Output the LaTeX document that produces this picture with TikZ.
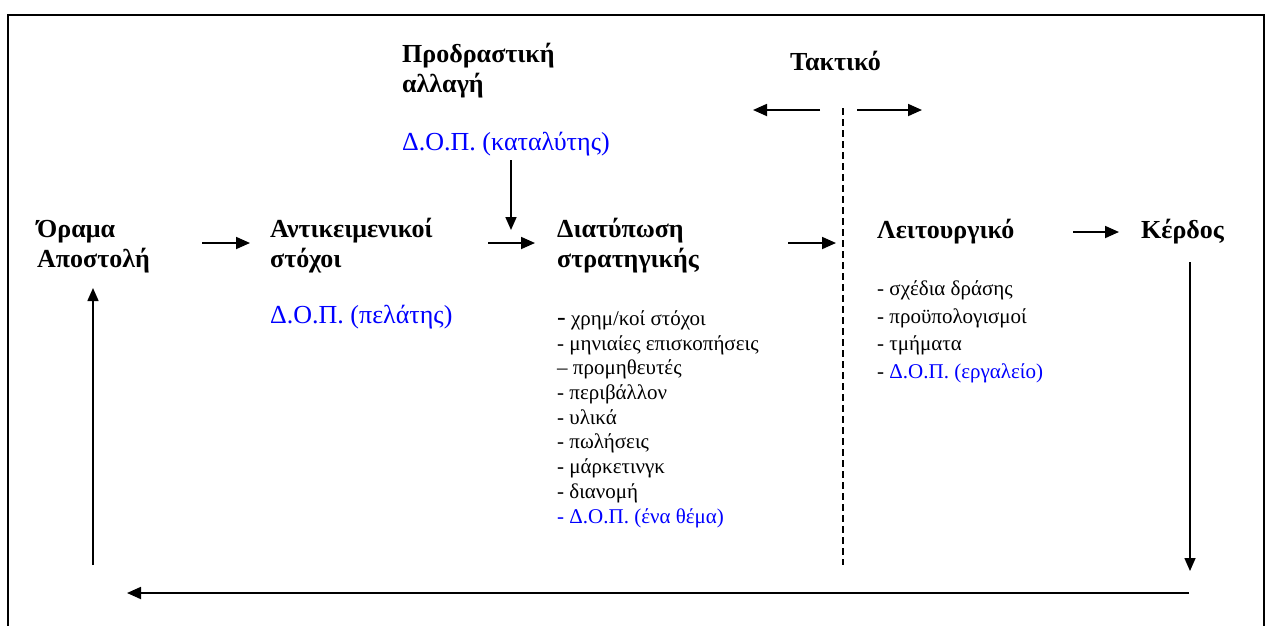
\documentclass[tikz,border=0pt]{standalone}
\usepackage{fontspec}
\setmainfont{Liberation Serif}
\usetikzlibrary{arrows.meta}
\definecolor{dopblue}{RGB}{0,0,255}
\begin{document}
\begin{tikzpicture}[x=1pt,y=-1pt,
  head/.style={anchor=base west, inner sep=0pt, align=left,
    font=\bfseries\fontsize{26}{30}\selectfont},
  dop/.style={anchor=base west, inner sep=0pt, text=dopblue,
    font=\fontsize{26}{30}\selectfont},
  items/.style={anchor=base west, inner sep=0pt, align=left,
    font=\fontsize{21}{24.7}\selectfont},
  flow/.style={line width=1.8pt, -{Triangle[length=14pt,width=12pt]}},
  thin/.style={line width=1.6pt, -{Triangle[length=13pt,width=11pt]}},
  divider/.style={line width=1.6pt, dash pattern=on 7pt off 4pt},
  frame/.style={line width=2pt}]
\useasboundingbox (0,0) rectangle (1270,625);

% outer frame (open at the bottom)
\draw[frame] (8,626) -- (8,15) -- (1264,15) -- (1264,626);

% stages (multi-line nodes are placed by the baseline of their last line)
\node[head] (orama) at (37,267) {Όραμα\\Αποστολή};
\node[head] (antik) at (270,267) {Αντικειμενικοί\\στόχοι};
\node[dop]  (dop1)  at (270,323) {Δ.Ο.Π. (πελάτης)};
\node[head] (prod)  at (402,92)  {Προδραστική\\αλλαγή};
\node[dop]  (dop2)  at (402,150) {Δ.Ο.Π. (καταλύτης)};
\node[head] (diat)  at (557,267) {Διατύπωση\\στρατηγικής};
\node[items] (list1) at (557,523) {{\fontsize{26}{24.7}\selectfont -} χρημ/κοί στόχοι\\
  - μηνιαίες επισκοπήσεις\\
  – προμηθευτές\\
  - περιβάλλον\\
  - υλικά\\
  - πωλήσεις\\
  - μάρκετινγκ\\
  - διανομή\\
  \textcolor{dopblue}{- Δ.Ο.Π. (ένα θέμα)}};
\node[head] (takt)  at (790,70)  {Τακτικό};
\node[head] (leit)  at (877,238) {Λειτουργικό};
\node[items, font=\fontsize{21}{27.5}\selectfont] (list2) at (877,378)
  {- σχέδια δράσης\\
  - προϋπολογισμοί\\
  - τμήματα\\
  - \textcolor{dopblue}{Δ.Ο.Π. (εργαλείο)}};
\node[head] (kerd)  at (1141,238) {Κέρδος};

% connector end points
\coordinate (a1s) at (202,243);  \coordinate (a1e) at (250,243);
\coordinate (a2s) at (488,243);  \coordinate (a2e) at (535,243);
\coordinate (a3s) at (788,243);  \coordinate (a3e) at (836,243);
\coordinate (a4s) at (1073,232); \coordinate (a4e) at (1119,232);
\coordinate (cs)  at (511,160);  \coordinate (ce)  at (511,230);
\coordinate (tl0) at (820,110);  \coordinate (tl1) at (753,110);
\coordinate (tr0) at (857,110);  \coordinate (tr1) at (922,110);
\coordinate (d0)  at (843,108);  \coordinate (d1)  at (843,565);
\coordinate (k0)  at (1190,262); \coordinate (k1)  at (1190,571);
\coordinate (b0)  at (1189,593); \coordinate (b1)  at (127,593);
\coordinate (u0)  at (93,565);   \coordinate (u1)  at (93,288);

% main flow
\draw[flow] (a1s) -- (a1e);
\draw[flow] (a2s) -- (a2e);
\draw[flow] (a3s) -- (a3e);
\draw[flow] (a4s) -- (a4e);
\draw[thin] (cs) -- (ce);

% strategic / tactical split
\draw[flow] (tl0) -- (tl1);
\draw[flow] (tr0) -- (tr1);
\draw[divider] (d0) -- (d1);

% feedback loop
\draw[thin] (k0) -- (k1);
\draw[flow] (b0) -- (b1);
\draw[thin] (u0) -- (u1);
\end{tikzpicture}
\end{document}
